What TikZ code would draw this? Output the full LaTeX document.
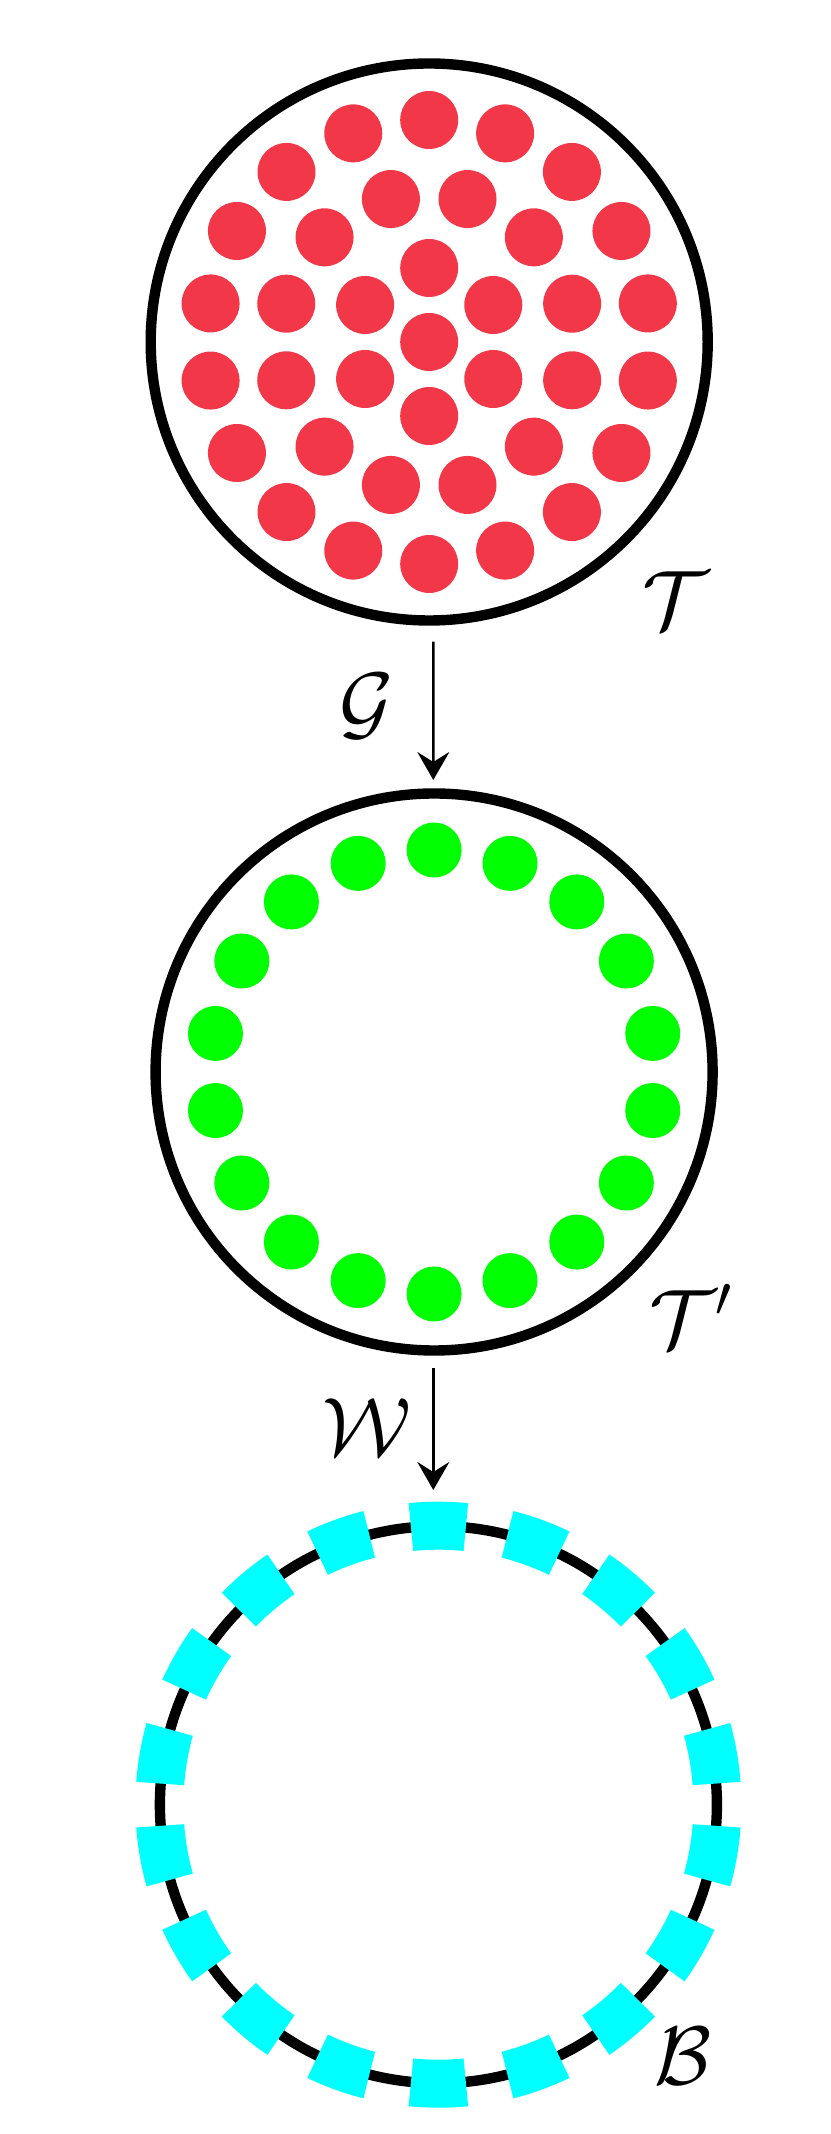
\documentclass[tikz,border=0pt]{standalone}
\usetikzlibrary{arrows.meta}
\definecolor{dotred}{RGB}{242,56,72}
\definecolor{dotgreen}{RGB}{0,255,0}
\definecolor{dashcyan}{RGB}{0,255,255}
\tikzset{
  bigring/.style={draw, circle, line width=2.6pt, minimum size=139.25pt, inner sep=0pt},
  lbl/.style={inner sep=0pt, font=\fontsize{20.74}{25}\selectfont},
  map/.style={-{Stealth[length=7pt, width=8pt, inset=2.5pt]}, line width=0.6pt},
  reddot/.style={fill=dotred},
  greendot/.style={fill=dotgreen},
  cyanring/.style={draw=dashcyan, line width=12pt, dash pattern=on 13.76pt off 10.59pt, dash phase=19.05pt}
}
\begin{document}
\begin{tikzpicture}[x=0.25pt, y=0.25pt]
  \useasboundingbox (0,0) rectangle (831,2134);
  \draw
    (429.2,1792) node[bigring] (T){}
    (434.1,1062) node[bigring] (Tp){}
    (438.4,329.3) node[bigring] (B){};
  % points of T
  \begin{scope}[shift={(T)}]
    \fill[reddot]
      (0:0) circle (29)
      (30:74) circle (29) (90:74) circle (29) (150:74) circle (29)
      (210:74) circle (29) (270:74) circle (29) (330:74) circle (29)
      (15:148) circle (29) (45:148) circle (29) (75:148) circle (29)
      (105:148) circle (29) (135:148) circle (29) (165:148) circle (29)
      (195:148) circle (29) (225:148) circle (29) (255:148) circle (29)
      (285:148) circle (29) (315:148) circle (29) (345:148) circle (29)
      (10:222) circle (29) (30:222) circle (29) (50:222) circle (29)
      (70:222) circle (29) (90:222) circle (29) (110:222) circle (29)
      (130:222) circle (29) (150:222) circle (29) (170:222) circle (29)
      (190:222) circle (29) (210:222) circle (29) (230:222) circle (29)
      (250:222) circle (29) (270:222) circle (29) (290:222) circle (29)
      (310:222) circle (29) (330:222) circle (29) (350:222) circle (29);
  \end{scope}
  % points of T'
  \begin{scope}[shift={(Tp)}]
    \fill[greendot]
      (10:222) circle (27.5) (30:222) circle (27.5) (50:222) circle (27.5)
      (70:222) circle (27.5) (90:222) circle (27.5) (110:222) circle (27.5)
      (130:222) circle (27.5) (150:222) circle (27.5) (170:222) circle (27.5)
      (190:222) circle (27.5) (210:222) circle (27.5) (230:222) circle (27.5)
      (250:222) circle (27.5) (270:222) circle (27.5) (290:222) circle (27.5)
      (310:222) circle (27.5) (330:222) circle (27.5) (350:222) circle (27.5);
  \end{scope}
  \draw[cyanring] (B) circle (279);
  \node[lbl] (tT) at (675.5,1533.5) {$\mathcal{T}$};
  \node[lbl] (tG) at (366.5,1428) {$\mathcal{G}$};
  \node[lbl] (tTp) at (691.5,818) {$\mathcal{T}'$};
  \node[lbl] (tW) at (366.5,707) {$\mathcal{W}$};
  \node[lbl] (tB) at (683,77.5) {$\mathcal{B}$};
  \draw[map] ([shift={(4.1,-16)}]T.south) -- ([shift={(-0.8,8.3)}]Tp.north);
  \draw[map] ([shift={(-0.8,-12.3)}]Tp.south) -- ([shift={(-5.1,31)}]B.north);
\end{tikzpicture}
\end{document}
